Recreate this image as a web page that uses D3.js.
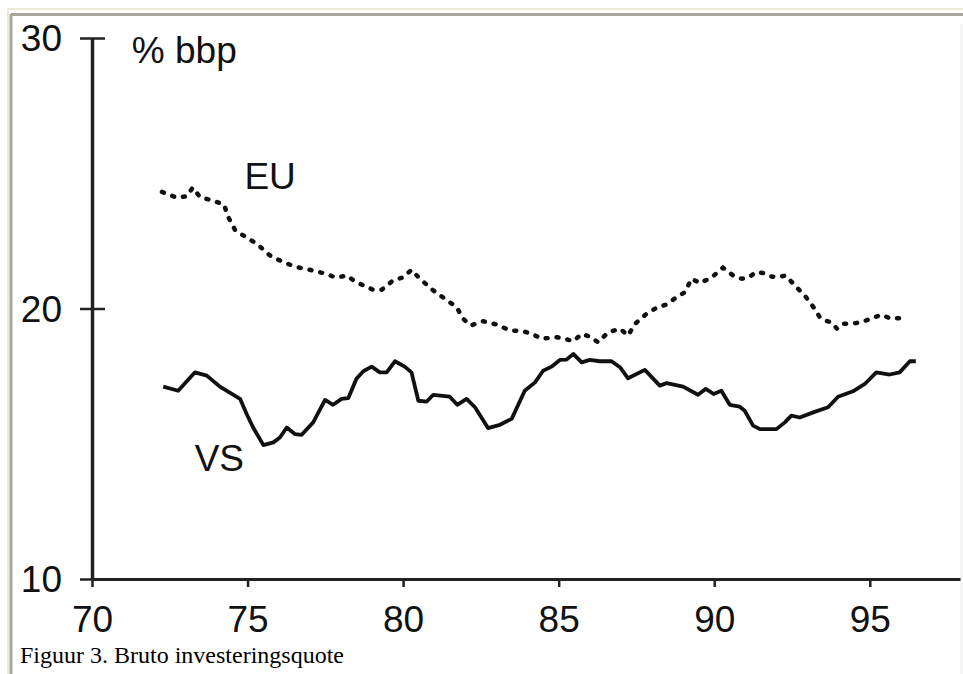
<!DOCTYPE html>
<html>
<head>
<meta charset="utf-8">
<script src="https://cdn.jsdelivr.net/npm/d3@7"></script>
<style>
  body { margin: 0; background: #fff; }
  .as text { font-family: "Liberation Sans", Arial, Helvetica, sans-serif; font-size: 37px; fill: #111; }
  .lbl { font-family: "Liberation Sans", Arial, Helvetica, sans-serif; font-size: 37px; fill: #111; }
  .caption { font-family: "Liberation Serif", "Times New Roman", serif; font-size: 24px; fill: #000; }
</style>
</head>
<body>
<div id="chart"></div>
<script>
// data : bruto investeringsquote (% bbp)
var euYears = [72.25, 72.72, 73.04, 73.24, 73.47, 73.90, 74.24, 74.38, 74.60, 74.97, 75.29, 75.72, 76.15, 76.58, 77.00, 77.43, 77.86, 78.18, 78.50, 79.04, 79.31, 79.68, 80.00, 80.27, 80.54, 80.97, 81.50, 81.72, 81.93, 82.17, 82.57, 83.00, 83.43, 83.86, 84.18, 84.45, 84.93, 85.20, 85.47, 85.74, 86.00, 86.27, 86.59, 86.97, 87.23, 87.45, 87.82, 88.15, 88.47, 88.79, 89.06, 89.27, 89.54, 89.91, 90.28, 90.61, 90.88, 91.09, 91.36, 91.57, 91.79, 92.05, 92.30, 92.64, 92.91, 93.07, 93.23, 93.39, 93.55, 93.77, 93.95, 94.14, 94.57, 94.89, 95.16, 95.38, 95.64, 95.96];
var euValues = [24.31, 24.10, 24.15, 24.47, 24.12, 23.98, 23.85, 23.38, 22.90, 22.62, 22.40, 21.96, 21.71, 21.53, 21.43, 21.31, 21.14, 21.22, 20.97, 20.69, 20.69, 21.04, 21.15, 21.43, 21.10, 20.67, 20.23, 20.05, 19.62, 19.37, 19.53, 19.41, 19.19, 19.16, 19.04, 18.88, 18.94, 18.88, 18.79, 19.06, 18.96, 18.75, 19.12, 19.25, 19.00, 19.43, 19.80, 20.03, 20.15, 20.42, 20.60, 21.10, 20.94, 21.14, 21.51, 21.22, 21.10, 21.14, 21.35, 21.31, 21.19, 21.16, 21.22, 20.79, 20.48, 20.23, 19.99, 19.68, 19.56, 19.49, 19.25, 19.43, 19.46, 19.56, 19.68, 19.77, 19.64, 19.64];

var vsYears = [72.29, 72.77, 73.31, 73.69, 74.11, 74.76, 74.97, 75.18, 75.51, 75.83, 76.04, 76.26, 76.52, 76.74, 77.11, 77.49, 77.75, 78.02, 78.24, 78.50, 78.72, 78.99, 79.25, 79.47, 79.74, 80.05, 80.27, 80.49, 80.76, 80.97, 81.50, 81.74, 82.04, 82.31, 82.73, 83.11, 83.49, 83.91, 84.24, 84.50, 84.77, 85.04, 85.25, 85.47, 85.74, 86.00, 86.32, 86.70, 86.97, 87.23, 87.77, 88.25, 88.47, 89.00, 89.48, 89.73, 89.98, 90.23, 90.50, 90.82, 90.98, 91.25, 91.47, 92.00, 92.27, 92.48, 92.75, 93.18, 93.66, 93.98, 94.46, 94.84, 95.21, 95.64, 95.96, 96.29, 96.48];
var vsValues = [17.11, 16.96, 17.64, 17.52, 17.11, 16.66, 16.10, 15.60, 14.95, 15.05, 15.23, 15.60, 15.36, 15.33, 15.79, 16.62, 16.44, 16.66, 16.69, 17.40, 17.68, 17.85, 17.64, 17.64, 18.05, 17.85, 17.64, 16.59, 16.56, 16.81, 16.74, 16.44, 16.66, 16.35, 15.58, 15.70, 15.92, 16.96, 17.27, 17.70, 17.85, 18.10, 18.11, 18.32, 18.01, 18.10, 18.05, 18.05, 17.83, 17.42, 17.73, 17.15, 17.24, 17.11, 16.81, 17.03, 16.84, 16.96, 16.44, 16.37, 16.22, 15.67, 15.54, 15.54, 15.79, 16.04, 15.97, 16.16, 16.35, 16.74, 16.94, 17.21, 17.64, 17.56, 17.64, 18.05, 18.05];

var xTicks = [70, 75, 80, 85, 90, 95];
var yTicks = [10, 20, 30];
var captionText = "Figuur 3. Bruto investeringsquote";

var width = 963, height = 674;

var svg = d3.select("#chart")
  .append("svg")
    .attr("width", width)
    .attr("height", height);

// cadre autour de l'image (style page web)
svg.append("line").attr("x1", 8).attr("x2", width).attr("y1", 9).attr("y2", 9)
  .attr("stroke", "#ece9d8").attr("stroke-width", 2);
svg.append("line").attr("x1", 8).attr("x2", 8).attr("y1", 9).attr("y2", height)
  .attr("stroke", "#ece9d8").attr("stroke-width", 2);
svg.append("line").attr("x1", 11).attr("x2", width).attr("y1", 14.5).attr("y2", 14.5)
  .attr("stroke", "#a7a69c").attr("stroke-width", 3);
svg.append("line").attr("x1", 11).attr("x2", 11).attr("y1", 14).attr("y2", height)
  .attr("stroke", "#a7a69c").attr("stroke-width", 3);
svg.append("line").attr("x1", 961.5).attr("x2", 961.5).attr("y1", 24).attr("y2", height)
  .attr("stroke", "#f0f0f0").attr("stroke-width", 2);

// echelles
var x = d3.scaleLinear()
    .domain([70, 97.9])
    .range([92, 960]);

var y = d3.scaleLinear()
    .domain([10, 30])
    .range([579, 38]);

// axe X
var gx = svg.append("g")
    .attr("class", "as")
    .attr("transform", "translate(0," + y(10) + ")")
    .call(d3.axisBottom(x).tickValues(xTicks).tickSize(8).tickSizeOuter(0).tickPadding(19));
gx.select(".domain").attr("stroke", "#222").attr("stroke-width", 3);
gx.selectAll(".tick line").attr("stroke", "#222").attr("stroke-width", 2.5);

// axe Y (les ticks traversent l'axe)
var gy = svg.append("g")
    .attr("class", "as")
    .attr("transform", "translate(" + x(70) + ",0)")
    .call(d3.axisLeft(y).tickValues(yTicks).tickSize(12).tickSizeOuter(0).tickPadding(18));
gy.select(".domain").attr("stroke", "#222").attr("stroke-width", 3.5);
gy.selectAll(".tick line")
    .attr("x1", -12).attr("x2", 13)
    .attr("stroke", "#222").attr("stroke-width", 2.5);
gy.selectAll(".tick text").attr("dy", "0.35em");

// les courbes
var euData = euYears.map(function(d, i) { return { jaar: d, waarde: euValues[i] }; });
var vsData = vsYears.map(function(d, i) { return { jaar: d, waarde: vsValues[i] }; });

var line = d3.line()
    .x(function(d) { return x(d.jaar); })
    .y(function(d) { return y(d.waarde); });

svg.append("path")
    .datum(euData)
    .attr("d", line)
    .attr("fill", "none")
    .attr("stroke", "#111")
    .attr("stroke-width", 4.5)
    .attr("stroke-linecap", "round")
    .attr("stroke-dasharray", "2,9");

svg.append("path")
    .datum(vsData)
    .attr("d", line)
    .attr("fill", "none")
    .attr("stroke", "#111")
    .attr("stroke-width", 3.8)
    .attr("stroke-linejoin", "round");

// etiquettes
svg.append("text").attr("class", "lbl")
    .attr("x", x(71.28)).attr("y", y(29.07))
    .text("% bbp");
svg.append("text").attr("class", "lbl")
    .attr("x", x(74.9)).attr("y", y(24.4))
    .text("EU");
svg.append("text").attr("class", "lbl")
    .attr("x", x(73.3)).attr("y", y(14.0))
    .text("VS");

svg.append("text").attr("class", "caption")
    .attr("x", 20).attr("y", 663)
    .text(captionText);
</script>
</body>
</html>
